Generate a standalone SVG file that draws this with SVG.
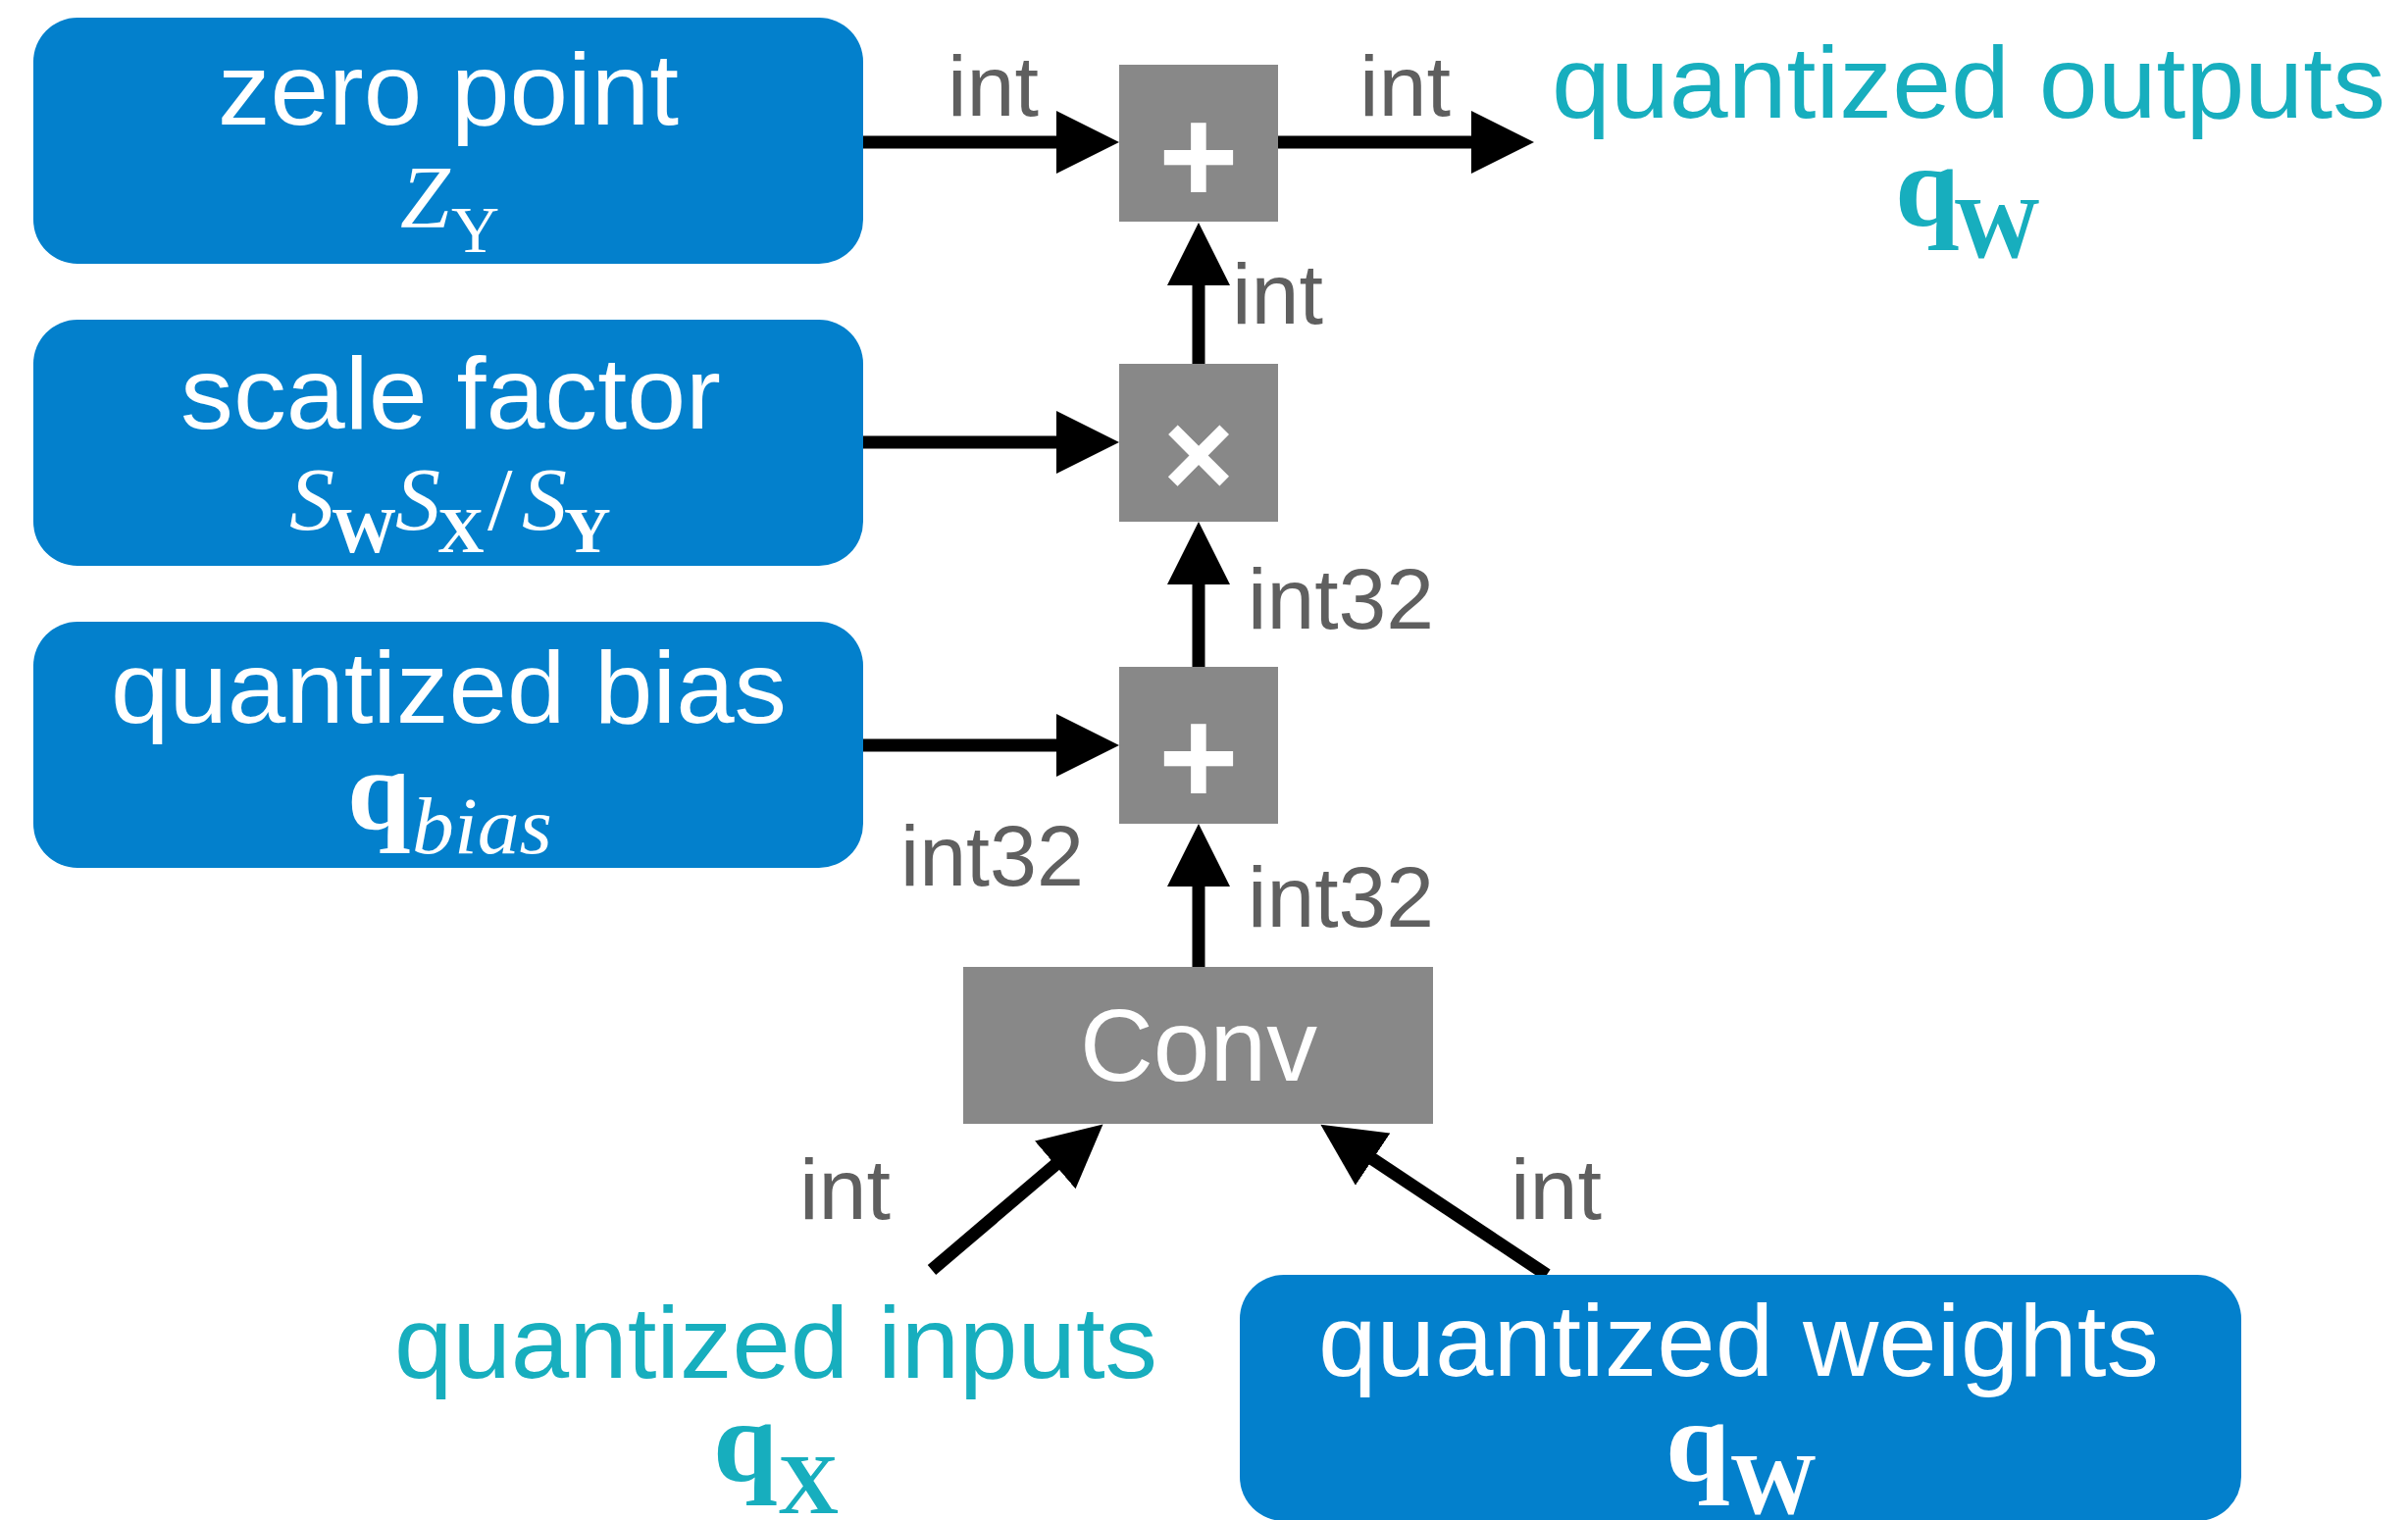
<svg xmlns="http://www.w3.org/2000/svg" width="2455" height="1550" viewBox="0 0 2455 1550">
  <style>
    .blue { fill: #0380cc; }
    .op { fill: #888888; }
    .title { font-family: "Liberation Sans", Arial, sans-serif; font-size: 104px; }
    .white { fill: #ffffff; }
    .teal { fill: #17aebe; }
    .lbl { font-family: "Liberation Sans", Arial, sans-serif; font-size: 88px; fill: #5f5f5f; }
    .sym { font-family: "Liberation Sans", Arial, sans-serif; font-weight: bold; fill: #ffffff; text-anchor: middle; }
    .math { font-family: "Liberation Serif", "Times New Roman", serif; }
    .it { font-style: italic; }
    .bf { font-weight: bold; }
    .wire { stroke: #000000; stroke-width: 13; fill: none; marker-end: url(#head); }
  </style>
  <defs>
    <marker id="head" markerUnits="userSpaceOnUse" markerWidth="64" markerHeight="64" refX="20" refY="32" orient="auto" viewBox="0 0 64 64">
      <path d="M0,0 L64,32 L0,64 z" fill="#000000"/>
    </marker>
  </defs>

  <rect width="2455" height="1550" fill="#ffffff"/>

  <!-- connectors -->
  <g id="connectors">
    <line class="wire" x1="880" y1="145" x2="1097" y2="145"/>
    <line class="wire" x1="880" y1="451" x2="1097" y2="451"/>
    <line class="wire" x1="880" y1="760" x2="1097" y2="760"/>
    <line class="wire" x1="1303" y1="145" x2="1520" y2="145"/>
    <line class="wire" x1="1222" y1="371" x2="1222" y2="271"/>
    <line class="wire" x1="1222" y1="680" x2="1222" y2="576"/>
    <line class="wire" x1="1222" y1="986" x2="1222" y2="884"/>
    <line class="wire" x1="950" y1="1295" x2="1091" y2="1175"/>
    <line class="wire" x1="1577" y1="1300" x2="1383" y2="1171"/>

    <text class="lbl" x="966" y="118" textLength="93" lengthAdjust="spacingAndGlyphs">int</text>
    <text class="lbl" x="1386" y="118" textLength="93" lengthAdjust="spacingAndGlyphs">int</text>
    <text class="lbl" x="1256" y="330" textLength="93" lengthAdjust="spacingAndGlyphs">int</text>
    <text class="lbl" x="1272" y="641" textLength="190" lengthAdjust="spacingAndGlyphs">int32</text>
    <text class="lbl" x="918" y="903" textLength="187" lengthAdjust="spacingAndGlyphs">int32</text>
    <text class="lbl" x="1272" y="945" textLength="190" lengthAdjust="spacingAndGlyphs">int32</text>
    <text class="lbl" x="815" y="1243" textLength="93" lengthAdjust="spacingAndGlyphs">int</text>
    <text class="lbl" x="1540" y="1243" textLength="93" lengthAdjust="spacingAndGlyphs">int</text>
  </g>

  <!-- zero point -->
  <g id="zero-point">
    <rect class="blue" x="34" y="18" width="846" height="251" rx="45"/>
    <text class="title white" x="222" y="127" textLength="470" lengthAdjust="spacingAndGlyphs">zero point</text>
    <text class="math white"><tspan class="it" x="408" y="232" font-size="91">Z</tspan><tspan x="460" y="257" font-size="68">Y</tspan></text>
  </g>

  <!-- scale factor -->
  <g id="scale-factor">
    <rect class="blue" x="34" y="326" width="846" height="251" rx="45"/>
    <text class="title white" x="184" y="437" textLength="551" lengthAdjust="spacingAndGlyphs">scale factor</text>
    <text class="math white"><tspan class="it" x="295" y="540" font-size="92">S</tspan><tspan class="bf" x="338" y="563" font-size="66">W</tspan><tspan class="it" x="403" y="540" font-size="92">S</tspan><tspan class="bf" x="446" y="563" font-size="66">X</tspan><tspan x="497" y="540" font-size="92">/</tspan><tspan class="it" x="532" y="540" font-size="92">S</tspan><tspan class="bf" x="575" y="563" font-size="66">Y</tspan></text>
  </g>

  <!-- quantized bias -->
  <g id="quantized-bias">
    <rect class="blue" x="34" y="634" width="846" height="251" rx="45"/>
    <text class="title white" x="113" y="737" textLength="689" lengthAdjust="spacingAndGlyphs">quantized bias</text>
    <text class="math white"><tspan class="bf" x="354" y="845" font-size="116">q</tspan><tspan class="it" x="420" y="870" font-size="82" textLength="143" lengthAdjust="spacingAndGlyphs">bias</tspan></text>
  </g>

  <!-- operators -->
  <g id="add-zero-point">
    <rect class="op" x="1141" y="66" width="162" height="160"/>
    <text class="sym" x="1222" y="207" font-size="140">+</text>
  </g>
  <g id="multiply-scale">
    <rect class="op" x="1141" y="371" width="162" height="161"/>
    <text class="sym" x="1222" y="506" font-size="124">×</text>
  </g>
  <g id="add-bias">
    <rect class="op" x="1141" y="680" width="162" height="160"/>
    <text class="sym" x="1222" y="820" font-size="140">+</text>
  </g>
  <g id="conv">
    <rect class="op" x="982" y="986" width="479" height="160"/>
    <text class="title white" x="1101" y="1102" textLength="242" lengthAdjust="spacingAndGlyphs">Conv</text>
  </g>

  <!-- quantized outputs -->
  <g id="quantized-outputs">
    <text class="title teal" x="1582" y="120" textLength="850" lengthAdjust="spacingAndGlyphs">quantized outputs</text>
    <text class="math teal bf"><tspan x="1932" y="230" font-size="118">q</tspan><tspan x="1992" y="262" font-size="88">W</tspan></text>
  </g>

  <!-- quantized inputs -->
  <g id="quantized-inputs">
    <text class="title teal" x="402" y="1405" textLength="778" lengthAdjust="spacingAndGlyphs">quantized inputs</text>
    <text class="math teal bf"><tspan x="727" y="1510" font-size="118">q</tspan><tspan x="793" y="1543" font-size="86">X</tspan></text>
  </g>

  <!-- quantized weights -->
  <g id="quantized-weights">
    <rect class="blue" x="1264" y="1300" width="1021" height="251" rx="45"/>
    <text class="title white" x="1344" y="1403" textLength="857" lengthAdjust="spacingAndGlyphs">quantized weights</text>
    <text class="math white bf"><tspan x="1698" y="1510" font-size="118">q</tspan><tspan x="1764" y="1543" font-size="88">W</tspan></text>
  </g>
</svg>
